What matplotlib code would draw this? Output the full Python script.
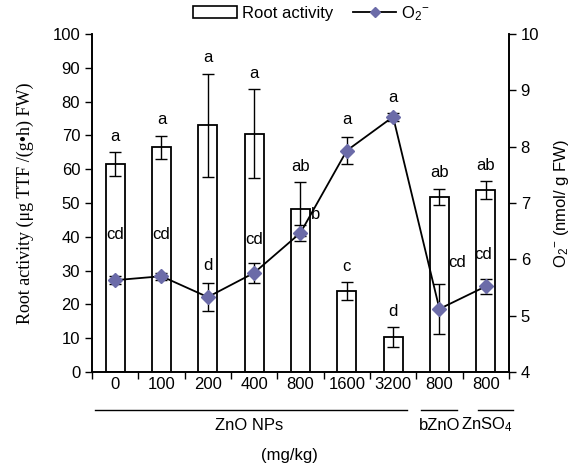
import numpy as np
import matplotlib
matplotlib.use("Agg")
import matplotlib.pyplot as plt
from matplotlib.patches import Patch
from matplotlib.lines import Line2D

plt.rcParams['font.family'] = ['Liberation Sans', 'DejaVu Sans']
plt.rcParams['mathtext.default'] = 'regular'

# data
doses = ['0', '100', '200', '400', '800', '1600', '3200', '800', '800']
root_act = [61.5, 66.5, 73.0, 70.5, 48.2, 24.0, 10.3, 51.8, 53.8]
root_err = [3.5, 3.4, 15.2, 13.2, 8.0, 2.6, 3.0, 2.4, 2.6]
root_sig = ['a', 'a', 'a', 'a', 'ab', 'c', 'd', 'ab', 'ab']
o2 = [5.63, 5.70, 5.33, 5.76, 6.47, 7.93, 8.53, 5.12, 5.52]
o2_err = [0.07, 0.06, 0.25, 0.18, 0.14, 0.24, 0.07, 0.45, 0.13]
o2_sig = ['cd', 'cd', 'd', 'cd', 'b', 'a', 'a', 'cd', 'cd']

x = np.arange(len(doses))
mcol = '#6b6ba8'
o2_txt = r'O$_{2}{}^{-}$'

fig = plt.figure(figsize=(5.77, 4.70), dpi=100)
ax = fig.add_axes([0.1594, 0.2085, 0.7226, 0.7192])
ax2 = ax.twinx()

ax.bar(x, root_act, width=0.41, color='white', edgecolor='black', linewidth=1.3,
       yerr=root_err, capsize=4, error_kw=dict(elinewidth=1, capthick=1), zorder=2)
for xi, v, e, s in zip(x, root_act, root_err, root_sig):
    ax.text(xi, v + e + 2.5, s, ha='center', va='bottom', fontsize=12)

ax2.errorbar(x, o2, yerr=o2_err, color='black', lw=1.3, capsize=4,
             elinewidth=1, capthick=1, zorder=3)
ax2.plot(x, o2, ls='none', marker='D', ms=7, color=mcol, zorder=4)

# O2- letters (offsets tuned by eye)
offs = [(0, 25), (0, 22), (0, 7), (0, 11), (11, 2), (0, 7), (0, 6), (13, 10), (-2, 12)]
for xi, v, e, s, o in zip(x, o2, o2_err, o2_sig, offs):
    ax2.annotate(s, (xi, v + e), xytext=o, textcoords='offset points',
                 ha='center', va='bottom', fontsize=12)

ax.set_xlim(-0.5, 8.5)
ax.set_ylim(0, 100)
ax2.set_ylim(4, 10)
ax.set_yticks(np.arange(0, 101, 10))
ax2.set_yticks(np.arange(4, 11, 1))
ax.set_xticks(np.arange(-0.5, 8.6, 1))
ax.set_xticklabels([])
for a in (ax, ax2):
    a.spines['top'].set_visible(False)
    a.tick_params(labelsize=12, width=1, length=5)
    for sp in a.spines.values():
        sp.set_linewidth(1.2)

tr = ax.get_xaxis_transform()
for xi, d in zip(x, doses):
    ax.text(xi, -0.036, d, transform=tr, ha='center', va='center', fontsize=12)
for x0, x1 in [(-0.43, 6.29), (6.61, 7.39), (7.84, 8.59)]:
    ax.plot([x0, x1], [-0.112, -0.112], transform=tr, color='black', lw=1, clip_on=False)
ax.text(2.9, -0.157, 'ZnO NPs', transform=tr, ha='center', va='center', fontsize=12)
ax.text(7.0, -0.157, 'bZnO', transform=tr, ha='center', va='center', fontsize=12)
ax.text(8.02, -0.157, 'ZnSO$_4$', transform=tr, ha='center', va='center', fontsize=12)
ax.text(3.77, -0.246, '(mg/kg)', transform=tr, ha='center', va='center', fontsize=12)

ax.set_ylabel('Root activity (μg TTF /(g•h) FW)', family=['Liberation Serif', 'DejaVu Serif'],
              fontsize=13, labelpad=13)
ax2.set_ylabel(o2_txt + ' (nmol/ g FW)', fontsize=12, labelpad=9)

handles = [Patch(facecolor='white', edgecolor='black', linewidth=1.2),
           Line2D([], [], color='black', lw=1.3, marker='D', ms=5, markerfacecolor=mcol,
                  markeredgecolor=mcol)]
fig.legend(handles, ['Root activity', o2_txt], loc='center', bbox_to_anchor=(0.54, 0.972),
           ncol=2, frameon=False, fontsize=12, handlelength=2.6, handleheight=0.7,
           columnspacing=1.2, handletextpad=0.3, borderaxespad=0)

fig.savefig('out.png', dpi=100)
